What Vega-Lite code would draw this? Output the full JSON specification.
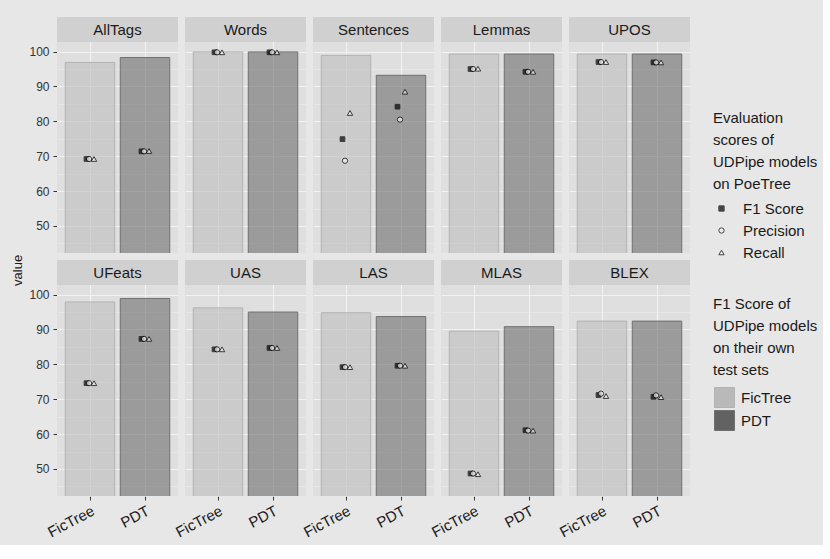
{
  "$schema": "https://vega.github.io/schema/vega-lite/v6.json",
  "background": "#e7e7e7",
  "padding": {"left": 11, "top": 17, "right": 5, "bottom": 5},
  "title": {"text": "value", "orient": "left", "anchor": "middle", "fontSize": 13, "fontWeight": "normal", "color": "#1a1a1a", "dx": 8},
  "data": {"values": [
    {"metric": "AllTags", "model": "FicTree", "kind": "bar", "measure": "own", "value": 96.9},
    {"metric": "AllTags", "model": "PDT", "kind": "bar", "measure": "own", "value": 98.3},
    {"metric": "Words", "model": "FicTree", "kind": "bar", "measure": "own", "value": 99.9},
    {"metric": "Words", "model": "PDT", "kind": "bar", "measure": "own", "value": 99.9},
    {"metric": "Sentences", "model": "FicTree", "kind": "bar", "measure": "own", "value": 98.9},
    {"metric": "Sentences", "model": "PDT", "kind": "bar", "measure": "own", "value": 93.2},
    {"metric": "Lemmas", "model": "FicTree", "kind": "bar", "measure": "own", "value": 99.3},
    {"metric": "Lemmas", "model": "PDT", "kind": "bar", "measure": "own", "value": 99.3},
    {"metric": "UPOS", "model": "FicTree", "kind": "bar", "measure": "own", "value": 99.3},
    {"metric": "UPOS", "model": "PDT", "kind": "bar", "measure": "own", "value": 99.3},
    {"metric": "UFeats", "model": "FicTree", "kind": "bar", "measure": "own", "value": 97.9},
    {"metric": "UFeats", "model": "PDT", "kind": "bar", "measure": "own", "value": 98.9},
    {"metric": "UAS", "model": "FicTree", "kind": "bar", "measure": "own", "value": 96.2},
    {"metric": "UAS", "model": "PDT", "kind": "bar", "measure": "own", "value": 95.0},
    {"metric": "LAS", "model": "FicTree", "kind": "bar", "measure": "own", "value": 94.8},
    {"metric": "LAS", "model": "PDT", "kind": "bar", "measure": "own", "value": 93.7},
    {"metric": "MLAS", "model": "FicTree", "kind": "bar", "measure": "own", "value": 89.5},
    {"metric": "MLAS", "model": "PDT", "kind": "bar", "measure": "own", "value": 90.8},
    {"metric": "BLEX", "model": "FicTree", "kind": "bar", "measure": "own", "value": 92.4},
    {"metric": "BLEX", "model": "PDT", "kind": "bar", "measure": "own", "value": 92.4},

    {"metric": "AllTags", "model": "FicTree", "kind": "point", "measure": "F1 Score", "value": 69.2},
    {"metric": "AllTags", "model": "FicTree", "kind": "point", "measure": "Precision", "value": 69.2},
    {"metric": "AllTags", "model": "FicTree", "kind": "point", "measure": "Recall", "value": 69.2},
    {"metric": "AllTags", "model": "PDT", "kind": "point", "measure": "F1 Score", "value": 71.4},
    {"metric": "AllTags", "model": "PDT", "kind": "point", "measure": "Precision", "value": 71.4},
    {"metric": "AllTags", "model": "PDT", "kind": "point", "measure": "Recall", "value": 71.5},
    {"metric": "Words", "model": "FicTree", "kind": "point", "measure": "F1 Score", "value": 99.8},
    {"metric": "Words", "model": "FicTree", "kind": "point", "measure": "Precision", "value": 99.8},
    {"metric": "Words", "model": "FicTree", "kind": "point", "measure": "Recall", "value": 99.8},
    {"metric": "Words", "model": "PDT", "kind": "point", "measure": "F1 Score", "value": 99.8},
    {"metric": "Words", "model": "PDT", "kind": "point", "measure": "Precision", "value": 99.8},
    {"metric": "Words", "model": "PDT", "kind": "point", "measure": "Recall", "value": 99.8},
    {"metric": "Sentences", "model": "FicTree", "kind": "point", "measure": "F1 Score", "value": 74.9},
    {"metric": "Sentences", "model": "FicTree", "kind": "point", "measure": "Precision", "value": 68.7},
    {"metric": "Sentences", "model": "FicTree", "kind": "point", "measure": "Recall", "value": 82.4},
    {"metric": "Sentences", "model": "PDT", "kind": "point", "measure": "F1 Score", "value": 84.2},
    {"metric": "Sentences", "model": "PDT", "kind": "point", "measure": "Precision", "value": 80.5},
    {"metric": "Sentences", "model": "PDT", "kind": "point", "measure": "Recall", "value": 88.5},
    {"metric": "Lemmas", "model": "FicTree", "kind": "point", "measure": "F1 Score", "value": 95.0},
    {"metric": "Lemmas", "model": "FicTree", "kind": "point", "measure": "Precision", "value": 95.0},
    {"metric": "Lemmas", "model": "FicTree", "kind": "point", "measure": "Recall", "value": 95.1},
    {"metric": "Lemmas", "model": "PDT", "kind": "point", "measure": "F1 Score", "value": 94.2},
    {"metric": "Lemmas", "model": "PDT", "kind": "point", "measure": "Precision", "value": 94.2},
    {"metric": "Lemmas", "model": "PDT", "kind": "point", "measure": "Recall", "value": 94.2},
    {"metric": "UPOS", "model": "FicTree", "kind": "point", "measure": "F1 Score", "value": 97.0},
    {"metric": "UPOS", "model": "FicTree", "kind": "point", "measure": "Precision", "value": 97.0},
    {"metric": "UPOS", "model": "FicTree", "kind": "point", "measure": "Recall", "value": 97.0},
    {"metric": "UPOS", "model": "PDT", "kind": "point", "measure": "F1 Score", "value": 96.9},
    {"metric": "UPOS", "model": "PDT", "kind": "point", "measure": "Precision", "value": 96.9},
    {"metric": "UPOS", "model": "PDT", "kind": "point", "measure": "Recall", "value": 96.9},
    {"metric": "UFeats", "model": "FicTree", "kind": "point", "measure": "F1 Score", "value": 74.6},
    {"metric": "UFeats", "model": "FicTree", "kind": "point", "measure": "Precision", "value": 74.6},
    {"metric": "UFeats", "model": "FicTree", "kind": "point", "measure": "Recall", "value": 74.6},
    {"metric": "UFeats", "model": "PDT", "kind": "point", "measure": "F1 Score", "value": 87.3},
    {"metric": "UFeats", "model": "PDT", "kind": "point", "measure": "Precision", "value": 87.3},
    {"metric": "UFeats", "model": "PDT", "kind": "point", "measure": "Recall", "value": 87.3},
    {"metric": "UAS", "model": "FicTree", "kind": "point", "measure": "F1 Score", "value": 84.3},
    {"metric": "UAS", "model": "FicTree", "kind": "point", "measure": "Precision", "value": 84.3},
    {"metric": "UAS", "model": "FicTree", "kind": "point", "measure": "Recall", "value": 84.3},
    {"metric": "UAS", "model": "PDT", "kind": "point", "measure": "F1 Score", "value": 84.7},
    {"metric": "UAS", "model": "PDT", "kind": "point", "measure": "Precision", "value": 84.7},
    {"metric": "UAS", "model": "PDT", "kind": "point", "measure": "Recall", "value": 84.7},
    {"metric": "LAS", "model": "FicTree", "kind": "point", "measure": "F1 Score", "value": 79.2},
    {"metric": "LAS", "model": "FicTree", "kind": "point", "measure": "Precision", "value": 79.2},
    {"metric": "LAS", "model": "FicTree", "kind": "point", "measure": "Recall", "value": 79.2},
    {"metric": "LAS", "model": "PDT", "kind": "point", "measure": "F1 Score", "value": 79.6},
    {"metric": "LAS", "model": "PDT", "kind": "point", "measure": "Precision", "value": 79.6},
    {"metric": "LAS", "model": "PDT", "kind": "point", "measure": "Recall", "value": 79.6},
    {"metric": "MLAS", "model": "FicTree", "kind": "point", "measure": "F1 Score", "value": 48.7},
    {"metric": "MLAS", "model": "FicTree", "kind": "point", "measure": "Precision", "value": 48.7},
    {"metric": "MLAS", "model": "FicTree", "kind": "point", "measure": "Recall", "value": 48.5},
    {"metric": "MLAS", "model": "PDT", "kind": "point", "measure": "F1 Score", "value": 61.1},
    {"metric": "MLAS", "model": "PDT", "kind": "point", "measure": "Precision", "value": 61.0},
    {"metric": "MLAS", "model": "PDT", "kind": "point", "measure": "Recall", "value": 61.0},
    {"metric": "BLEX", "model": "FicTree", "kind": "point", "measure": "F1 Score", "value": 71.2},
    {"metric": "BLEX", "model": "FicTree", "kind": "point", "measure": "Precision", "value": 71.6},
    {"metric": "BLEX", "model": "FicTree", "kind": "point", "measure": "Recall", "value": 70.9},
    {"metric": "BLEX", "model": "PDT", "kind": "point", "measure": "F1 Score", "value": 70.7},
    {"metric": "BLEX", "model": "PDT", "kind": "point", "measure": "Precision", "value": 71.1},
    {"metric": "BLEX", "model": "PDT", "kind": "point", "measure": "Recall", "value": 70.6}
  ]},
  "columns": 5,
  "facet": {
    "field": "metric", "type": "nominal",
    "sort": ["AllTags", "Words", "Sentences", "Lemmas", "UPOS", "UFeats", "UAS", "LAS", "MLAS", "BLEX"],
    "header": {"labelExpr": "''", "labelFontSize": 0, "labelPadding": 0, "title": null, "titlePadding": 0}
  },
  "spacing": 7,
  "spec": {
    "width": 121,
    "height": 236,
    "resolve": {"axis": {"y": "independent"}},
    "layer": [
      {
        "transform": [{"filter": "datum.kind == 'bar'"}],
        "mark": {"type": "bar", "clip": true, "fillOpacity": 0.55, "strokeWidth": 1},
        "encoding": {
          "x": {
            "field": "model", "type": "nominal",
            "scale": {"type": "band", "paddingInner": 0.1, "paddingOuter": 0.15},
            "axis": {"title": null, "labelAngle": -28, "labelFontSize": 15, "labelColor": "#1a1a1a", "labelPadding": 3,
                     "tickSize": 4, "tickColor": "#333333", "domain": false, "grid": true, "gridColor": "#f2f2f2", "gridWidth": 1.1}
          },
          "y": {
            "field": "value", "type": "quantitative",
            "scale": {"domain": [42.25, 109.92], "nice": false, "zero": false},
            "axis": {"title": null, "orient": "left", "values": [50, 60, 70, 80, 90, 100], "labelFontSize": 12, "labelColor": "#333333",
                     "labelPadding": 4, "tickSize": 4, "tickColor": "#333333", "domain": false,
                     "grid": true, "gridColor": "#f2f2f2", "gridWidth": 1.1}
          },
          "fill": {
            "field": "model", "type": "nominal",
            "scale": {"domain": ["FicTree", "PDT"], "range": ["#b9b9b9", "#626262"]},
            "legend": {"title": ["F1 Score of", "UDPipe models", "on their own", "test sets"], "orient": "none", "legendX": 656, "legendY": 280,
                       "symbolType": "square", "symbolSize": 400, "rowPadding": -3, "labelOffset": 6, "symbolOffset": 1, "titlePadding": 9}
          },
          "stroke": {
            "field": "model", "type": "nominal",
            "scale": {"domain": ["FicTree", "PDT"], "range": ["#b3b3b3", "#707070"]},
            "legend": {"title": ["F1 Score of", "UDPipe models", "on their own", "test sets"], "orient": "none", "legendX": 656, "legendY": 280,
                       "symbolType": "square", "symbolSize": 400, "rowPadding": -3, "labelOffset": 6, "symbolOffset": 1, "titlePadding": 9}
          }
        }
      },
      {
        "transform": [{"filter": "datum.kind == 'point' && datum.measure == 'F1 Score'"}],
        "mark": {"type": "point", "filled": true, "stroke": "black", "strokeWidth": 1, "size": 22, "xOffset": -3.5},
        "encoding": {
          "x": {"field": "model", "type": "nominal"},
          "y": {
            "field": "value", "type": "quantitative",
            "axis": {"title": null, "orient": "left", "values": [45, 55, 65, 75, 85, 95], "labels": false, "ticks": false, "domain": false,
                     "grid": true, "gridColor": "#ececec", "gridWidth": 0.6}
          },
          "shape": {
            "field": "measure", "type": "nominal",
            "scale": {"domain": ["F1 Score", "Precision", "Recall"], "range": ["square", "circle", "triangle-up"]},
            "legend": {"title": ["Evaluation", "scores of", "UDPipe models", "on PoeTree"], "orient": "none", "legendX": 656, "legendY": 94,
                       "rowPadding": 6, "labelOffset": 14, "symbolOffset": 1, "symbolSize": 28, "titlePadding": 9}
          },
          "color": {
            "field": "measure", "type": "nominal",
            "scale": {"domain": ["F1 Score", "Precision", "Recall"], "range": ["#000000", "#efefef", "#efefef"]},
            "legend": {"title": ["Evaluation", "scores of", "UDPipe models", "on PoeTree"], "orient": "none", "legendX": 656, "legendY": 94,
                       "rowPadding": 6, "labelOffset": 14, "symbolOffset": 1, "symbolSize": 28, "titlePadding": 9}
          }
        }
      },
      {
        "transform": [{"filter": "datum.kind == 'point' && datum.measure == 'Precision'"}],
        "mark": {"type": "point", "filled": true, "stroke": "black", "strokeWidth": 1, "size": 28, "xOffset": -1},
        "encoding": {
          "x": {"field": "model", "type": "nominal"},
          "y": {"field": "value", "type": "quantitative", "axis": null},
          "shape": {"field": "measure", "type": "nominal"},
          "color": {"field": "measure", "type": "nominal"}
        }
      },
      {
        "transform": [{"filter": "datum.kind == 'point' && datum.measure == 'Recall'"}],
        "mark": {"type": "point", "filled": true, "stroke": "black", "strokeWidth": 1, "size": 30, "xOffset": 4},
        "encoding": {
          "x": {"field": "model", "type": "nominal"},
          "y": {"field": "value", "type": "quantitative", "axis": null},
          "shape": {"field": "measure", "type": "nominal"},
          "color": {"field": "measure", "type": "nominal"}
        }
      },
      {
        "transform": [{"filter": "datum.kind == 'bar' && datum.model == 'FicTree'"}],
        "mark": {"type": "rect", "color": "#d0d0d0"},
        "encoding": {
          "y": {"datum": 102.75, "type": "quantitative", "axis": null},
          "y2": {"datum": 109.92}
        }
      },
      {
        "transform": [{"filter": "datum.kind == 'bar' && datum.model == 'FicTree'"}],
        "mark": {"type": "text", "fontSize": 15, "color": "#1a1a1a", "baseline": "middle"},
        "encoding": {
          "y": {"datum": 106.3, "type": "quantitative", "axis": null},
          "text": {"field": "metric"}
        }
      }
    ]
  },
  "config": {
    "font": "Liberation Sans",
    "view": {"fill": "#dfdfdf", "stroke": null},
    "header": {"labelExpr": "''", "labelFontSize": 0, "labelPadding": 0, "title": null, "titlePadding": 0},
    "legend": {
      "titleFontSize": 15, "titleFontWeight": "normal", "titleColor": "#1a1a1a", "titleLineHeight": 22,
      "labelFontSize": 15, "labelColor": "#1a1a1a", "symbolStrokeWidth": 1
    }
  }
}
